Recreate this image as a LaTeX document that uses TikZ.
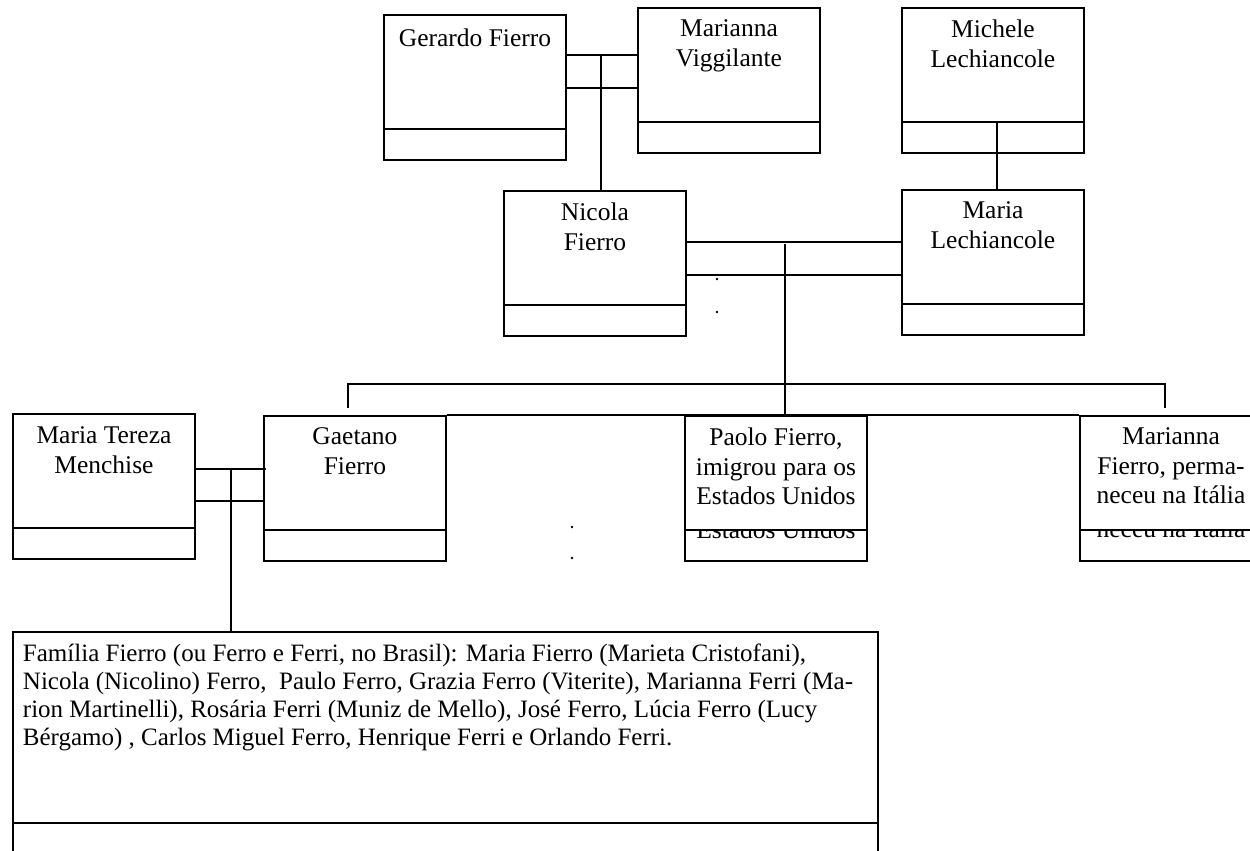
\documentclass[tikz,border=0pt]{standalone}
\usepackage{fontspec}
\setmainfont{Liberation Serif}
\usetikzlibrary{calc}
\begin{document}
\begin{tikzpicture}[x=1pt,y=-1pt,line width=1.9pt,
  pbox/.style={draw,anchor=north west,inner sep=0pt,minimum width=182pt,minimum height=145pt},
  fbox/.style={draw,anchor=north west,inner sep=0pt,minimum width=865pt,minimum height=260pt},
  lbl/.style={anchor=north,align=center,inner sep=0pt,font=\fontsize{25.5}{29.5}\selectfont,
              execute at begin node={\rule{0pt}{20pt}}},
  ftext/.style={anchor=north west,align=left,inner sep=0pt,font=\fontsize{25}{28}\selectfont,
              execute at begin node={\rule{0pt}{20pt}}},
  ghost/.style={anchor=base,inner sep=0pt,font=\fontsize{25.5}{29.5}\selectfont},
  dot/.style={circle,fill,inner sep=0pt,minimum size=2.8pt},
  conn/.style={line width=1.9pt}]
\useasboundingbox (0,0) rectangle (1250,851);
\clip (0,0) rectangle (1250,851);

% person boxes
\node[pbox] (gf) at (383,14) {};
\node[pbox] (mv) at (637,7) {};
\node[pbox] (mk) at (901,7) {};
\node[pbox] (nf) at (503,190) {};
\node[pbox] (ml) at (901,189) {};
\node[pbox] (mt) at (12,413) {};
\node[pbox] (gt) at (263,415) {};
\node[pbox] (pf) at (684,415) {};
\node[pbox] (mf) at (1079,415) {};
\node[fbox] (fam) at (12,631) {};

% lower compartments
\foreach \b in {gf,mv,mk,nf,ml,mt,gt,pf,mf}
  \draw ($(\b.south west)+(0,-32)$) -- ($(\b.south east)+(0,-32)$);
\draw ($(fam.north west)+(0,192)$) -- ($(fam.north east)+(0,192)$);

% names
\node[lbl] (gf-l) at ($(gf.north)+(0,12)$) {Gerardo Fierro};
\node[lbl] (mv-l) at ($(mv.north)+(0,12)$) {Marianna\\Viggilante};
\node[lbl] (mk-l) at ($(mk.north)+(0,12)$) {Michele\\Lechiancole};
\node[lbl] (nf-l) at ($(nf.north)+(0,12)$) {Nicola\\Fierro};
\node[lbl] (ml-l) at ($(ml.north)+(0,12)$) {Maria\\Lechiancole};
\node[lbl] (mt-l) at ($(mt.north)+(0,13)$) {Maria Tereza\\Menchise};
\node[lbl] (gt-l) at ($(gt.north)+(0,12)$) {Gaetano\\Fierro};
\node[lbl] (pf-l) at ($(pf.north)+(0,12)$) {Paolo Fierro,\\imigrou para os\\Estados Unidos};
\node[lbl] (mf-l) at ($(mf.north)+(0,12)$) {Marianna\\Fierro, perma-\\neceu na Itália};

% overflowing last lines seen in the lower compartments
\begin{scope}
  \clip ($(pf.south west)+(0,-32)$) rectangle (pf.south east);
  \node[ghost] (pf-g) at ($(pf.north)+(0,123)$) {Estados Unidos};
\end{scope}
\begin{scope}
  \clip ($(mf.south west)+(0,-32)$) rectangle (mf.south east);
  \node[ghost] (mf-g) at ($(mf.north)+(0,122)$) {neceu na Itália};
\end{scope}

\node[ftext] (fam-l) at ($(fam.north west)+(10,12)$) {Família Fierro (ou Ferro e Ferri, no Brasil): Maria Fierro (Marieta Cristofani),\\
Nicola (Nicolino) Ferro,\ \ Paulo Ferro, Grazia Ferro (Viterite), Marianna Ferri (Ma-\\
rion Martinelli), Rosária Ferri (Muniz de Mello), José Ferro, Lúcia Ferro (Lucy\\
Bérgamo) , Carlos Miguel Ferro, Henrique Ferri e Orlando Ferri.};

% Gerardo + Marianna Viggilante -> Nicola
\coordinate (g1) at ($(gf.north east)+(0,41)$);
\coordinate (g2) at ($(gf.north east)+(0,74)$);
\coordinate (g3) at ($(g1)+(34,0)$);
\draw[conn] (g1) -- (g1 -| mv.west);
\draw[conn] (g2) -- (g2 -| mv.west);
\draw[conn] (g3) -- (g3 |- nf.north);

% Michele -> Maria Lechiancole
\coordinate (k1) at ($(mk.south west)+(96,-32)$);
\draw[conn] (k1) -- (k1 |- ml.north);

% Nicola + Maria Lechiancole -> children
\coordinate (n1) at ($(nf.north east)+(0,52)$);
\coordinate (n2) at ($(nf.north east)+(0,85)$);
\coordinate (n3) at ($(n1)+(98,2)$);
\draw[conn] (n1) -- (n1 -| ml.west);
\draw[conn] (n2) -- (n2 -| ml.west);
\draw[conn] (n3) -- (n3 |- pf.north);

% sibling bar
\coordinate (sL) at ($(gt.north west)+(85,-31)$);
\coordinate (sR) at ($(mf.north west)+(86,-31)$);
\draw[conn] ($(sL)+(0,24)$) -- (sL) -- (sR) -- ($(sR)+(0,24)$);
\draw[conn] (gt.north east) -- (mf.north west);

% Maria Tereza + Gaetano -> family
\coordinate (t1) at ($(mt.north east)+(0,56)$);
\coordinate (t2) at ($(mt.north east)+(0,88)$);
\coordinate (t3) at ($(t1)+(35,0)$);
\draw[conn] (t1) -- ($(t1 -| gt.west)+(3,0)$);
\draw[conn] (t2) -- (t2 -| gt.west);
\draw[conn] (t3) -- (t3 |- fam.north);

% small dots
\node[dot] (d1) at (717,279) {};
\node[dot] (d2) at (717,312) {};
\node[dot] (d3) at (572,527) {};
\node[dot] (d4) at (572,558) {};
\end{tikzpicture}
\end{document}
